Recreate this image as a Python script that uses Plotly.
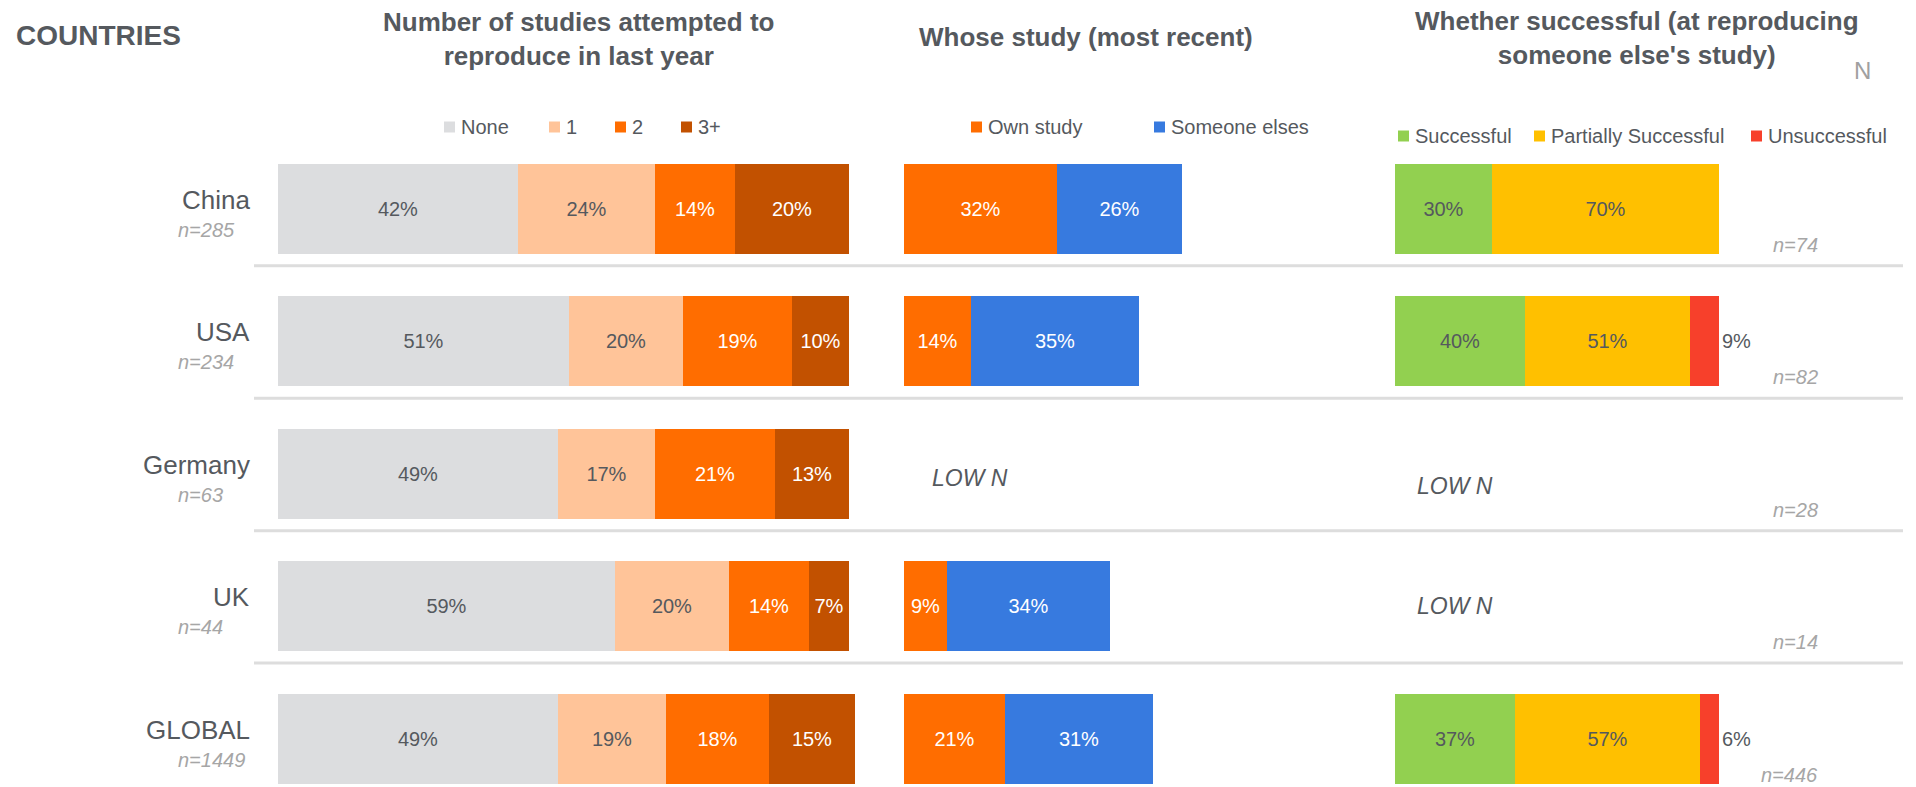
import plotly.graph_objects as go

# ---- data -------------------------------------------------------------
countries = ["China", "USA", "Germany", "UK", "GLOBAL"]
country_n = [285, 234, 63, 44, 1449]

# Number of studies attempted to reproduce in last year (%)
attempts_none = [42, 51, 49, 59, 49]
attempts_one = [24, 20, 17, 20, 19]
attempts_two = [14, 19, 21, 14, 18]
attempts_three_plus = [20, 10, 13, 7, 15]

# Whose study (most recent) (%), None = low n
own_study = [32, 14, None, 9, 21]
someone_elses = [26, 35, None, 34, 31]

# Whether successful at reproducing someone else's study (%), None = low n
successful = [30, 40, None, None, 37]
partially_successful = [70, 51, None, None, 57]
unsuccessful = [None, 9, None, None, 6]
success_n = [74, 82, 28, 14, 446]

# ---- styling ----------------------------------------------------------
W, H = 1916, 787
FONT = "Liberation Sans, Arial, sans-serif"
DARK = "#55595E"
GREY_N = "#A6A6A6"

C_NONE, C_ONE, C_TWO, C_THREE = "#DCDDDF", "#FFC499", "#FF6D00", "#C25100"
C_OWN, C_ELSE = "#FF6D00", "#377ADF"
C_SUCC, C_PART, C_UNS = "#92D050", "#FFC000", "#F7402B"


def px_x(p):
    return p / W


def px_y(p):
    return 1 - p / H


fig = go.Figure()


def add_bar(values, name, color, axis, text_color, position="inside"):
    fig.add_trace(go.Bar(
        y=countries, x=values, name=name, orientation="h",
        xaxis=axis, yaxis="y",
        marker=dict(color=color, line=dict(width=0)),
        width=0.68,
        texttemplate="%{x}%", textposition=position,
        insidetextanchor="middle", constraintext="none",
        textfont=dict(family=FONT, size=20, color=text_color),
        cliponaxis=False, showlegend=False, hoverinfo="skip",
    ))


add_bar(attempts_none, "None", C_NONE, "x", DARK)
add_bar(attempts_one, "1", C_ONE, "x", DARK)
add_bar(attempts_two, "2", C_TWO, "x", "white")
add_bar(attempts_three_plus, "3+", C_THREE, "x", "white")

add_bar(own_study, "Own study", C_OWN, "x2", "white")
add_bar(someone_elses, "Someone elses", C_ELSE, "x2", "white")

add_bar(successful, "Successful", C_SUCC, "x3", DARK)
add_bar(partially_successful, "Partially Successful", C_PART, "x3", DARK)
add_bar(unsuccessful, "Unsuccessful", C_UNS, "x3", DARK, position="outside")

annotations = []
shapes = []


def note(text, x, y, size, color=DARK, xanchor="center", yanchor="middle",
         yref="paper", yshift=0, bold=False, italic=False):
    if bold:
        text = f"<b>{text}</b>"
    if italic:
        text = f"<i>{text}</i>"
    annotations.append(dict(
        text=text, x=x, y=y, xref="paper", yref=yref,
        xanchor=xanchor, yanchor=yanchor, yshift=yshift, showarrow=False,
        font=dict(family=FONT, size=size, color=color),
    ))


# headers
note("COUNTRIES", px_x(14), px_y(35), 28, xanchor="left", bold=True)
note("<b>Number of studies attempted to</b><br><b>reproduce in last year</b>",
     px_x(578), px_y(39), 26)
note("Whose study (most recent)", px_x(1086), px_y(37), 26, bold=True)
note("<b>Whether successful (at reproducing</b><br><b>someone else's study)</b>",
     px_x(1637), px_y(38), 26)
note("N", px_x(1862), px_y(70), 24, color="#A0A0A0")

# legends
legend_groups = [
    (["None", "1", "2", "3+"], [C_NONE, C_ONE, C_TWO, C_THREE],
     [444, 549, 615, 681], 127),
    (["Own study", "Someone elses"], [C_OWN, C_ELSE], [971, 1154], 127),
    (["Successful", "Partially Successful", "Unsuccessful"],
     [C_SUCC, C_PART, C_UNS], [1398, 1534, 1751], 136),
]
for names, colors, lefts, cy in legend_groups:
    for name, color, left in zip(names, colors, lefts):
        shapes.append(dict(
            type="rect", xref="paper", yref="paper",
            x0=px_x(left), x1=px_x(left + 11),
            y0=px_y(cy - 5.5), y1=px_y(cy + 5.5),
            fillcolor=color, line=dict(width=0),
        ))
        note(name, px_x(left + 15), px_y(cy), 20, xanchor="left")

# country labels with sample sizes
for i, (c, n) in enumerate(zip(countries, country_n)):
    note(c, px_x(252), i, 26, xanchor="right", yref="y", yshift=9)
    note(f"<i>n={n}</i>", px_x(176), i, 20, color=GREY_N,
         xanchor="left", yref="y", yshift=-21)

# sample sizes for the success panel
for i, n in enumerate(success_n):
    note(f"<i>n={n}</i>", px_x(1820), i, 20, color=GREY_N,
         xanchor="right", yref="y", yshift=-36)

# low-n markers where no bars are drawn
for i, v in enumerate(own_study):
    if v is None:
        note("LOW N", px_x(970), i, 23, italic=True, yref="y", yshift=-4)
for i, v in enumerate(successful):
    if v is None:
        note("LOW N", px_x(1455), i, 23, italic=True, yref="y",
             yshift=-12 if i == 2 else 0)

# row separators
for i in range(len(countries) - 1):
    shapes.append(dict(
        type="line", xref="paper", yref="y",
        x0=px_x(254), x1=px_x(1903), y0=i + 0.43, y1=i + 0.43,
        line=dict(color="#DDDDDD", width=3),
    ))

# first panel: 5.71 px per percent, with room for the 101% global row
P1_LEFT, P1_SCALE, P1_MAX = 278, 5.71, 102
hidden = dict(visible=False, fixedrange=True)
fig.update_layout(
    width=W, height=H,
    margin=dict(l=0, r=0, t=0, b=0),
    paper_bgcolor="white", plot_bgcolor="white",
    barmode="stack", bargap=0,
    showlegend=False,
    xaxis=dict(domain=[px_x(P1_LEFT), px_x(P1_LEFT + P1_SCALE * P1_MAX)],
               range=[0, P1_MAX], anchor="y", **hidden),
    xaxis2=dict(domain=[px_x(904), px_x(1383)], range=[0, 100],
                anchor="y", **hidden),
    xaxis3=dict(domain=[px_x(1395), px_x(1719)], range=[0, 100],
                anchor="y", **hidden),
    yaxis=dict(
        domain=[0, 1], type="category", categoryorder="array",
        categoryarray=countries, range=[4.365, -1.575], visible=False,
        fixedrange=True,
    ),
    annotations=annotations,
    shapes=shapes,
    font=dict(family=FONT, color=DARK),
)

fig.write_html("out.html")
